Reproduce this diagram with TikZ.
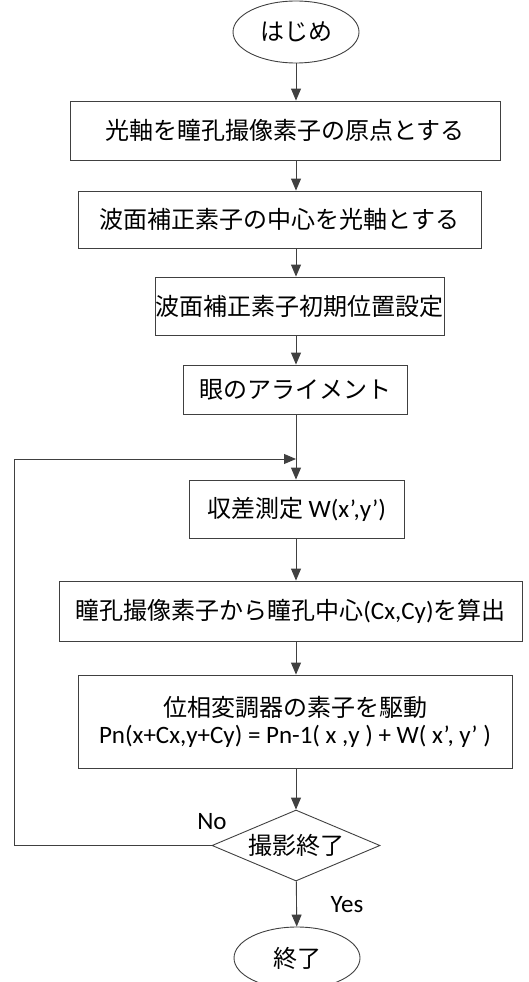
\documentclass[tikz,border=0pt]{standalone}
\usepackage{fontspec}
\newfontfamily\jpfont{Noto Sans CJK JP}
\newfontfamily\latfont{Carlito}
\usetikzlibrary{shapes.geometric,arrows.meta}

\tikzset{
  line/.style={draw=black!75,line width=0.9pt},
  arr/.style={line,-{Triangle[length=12pt,width=10pt]}},
  stepbox/.style={line,rectangle,inner sep=0pt,font=\jpfont\fontsize{24}{29}\selectfont},
  term/.style={line,ellipse,inner sep=0pt,minimum width=126pt,minimum height=62pt,font=\jpfont\fontsize{24}{29}\selectfont},
  decide/.style={line,diamond,aspect=2.37,inner sep=0pt,minimum width=168pt,minimum height=71pt,font=\jpfont\fontsize{24}{29}\selectfont},
  lbl/.style={font=\latfont\fontsize{25}{28}\selectfont}
}

\begin{document}
\begin{tikzpicture}[x=1pt,y=-1pt]
    \useasboundingbox (0,0) rectangle (528,982);
    \clip (0,0) rectangle (528,982);

    \node[term] (start) at (296,32) {はじめ};
    \node[stepbox,minimum width=430pt,minimum height=59pt] (axis) at (285,130.5) {光軸を瞳孔撮像素子の原点とする};
    \node[stepbox,minimum width=403pt,minimum height=57pt] (center) at (279.5,219.5) {波面補正素子の中心を光軸とする};
    \node[stepbox,minimum width=289pt,minimum height=58pt] (init) at (299.5,306) {波面補正素子初期位置設定};
    \node[stepbox,minimum width=224pt,minimum height=49pt] (align) at (295,389.5) {眼のアライメント};
    \node[stepbox,minimum width=215pt,minimum height=58pt] (measure) at (296.5,509) {収差測定 {\latfont\fontsize{25}{29}\selectfont W(x’,y’)}};
    \node[stepbox,minimum width=463pt,minimum height=60pt] (pupil) at (290.5,611) {瞳孔撮像素子から瞳孔中心{\latfont\fontsize{25}{29}\selectfont (Cx,Cy)}を算出};
    \node[stepbox,minimum width=434pt,minimum height=93pt,align=center] (drive) at (295,721.5)
      {位相変調器の素子を駆動\\[-2pt]{\latfont\fontsize{25}{29}\selectfont Pn(x+Cx,y+Cy) = Pn-1( x ,y ) + W( x’, y’ )}};
    \node[decide] (done) at (296,845.5) {撮影終了};
    \node[term] (end) at (297,958) {終了};

    \coordinate (back) at (14,459);
    \node[lbl] (no) at (212,822) {No};
    \node[lbl] (yes) at (347,905) {Yes};

    % main flow
    \draw[arr] (start) -- (axis.north -| start);
    \draw[arr] (axis.south -| start) -- (center.north -| start);
    \draw[arr] (center.south -| start) -- (init.north -| start);
    \draw[arr] (init.south -| start) -- (align.north -| start);
    \draw[arr] (align.south -| start) -- (measure.north -| start);
    \draw[arr] (measure.south -| start) -- (pupil.north -| start);
    \draw[arr] (pupil.south -| start) -- (drive.north -| start);
    \draw[arr] (drive.south -| start) -- (done);
    \draw[arr] (done) -- (end);
    % loop back
    \draw[arr] (done.west) -| (back) -- (back -| start);
\end{tikzpicture}
\end{document}
